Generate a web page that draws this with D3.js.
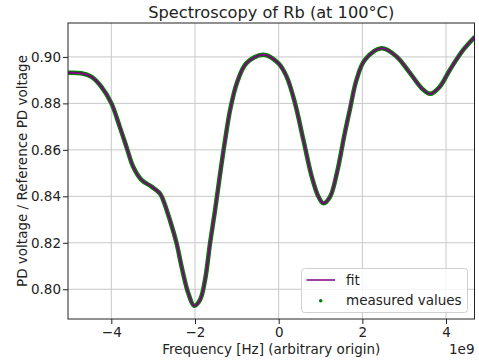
<!DOCTYPE html>
<html>
<head>
<meta charset="utf-8">
<script src="https://cdn.jsdelivr.net/npm/d3@7"></script>
<style>
  body { margin: 0; background: #fff; }
  svg text { font-family: 'DejaVu Sans', sans-serif; fill: #222; }
</style>
</head>
<body>
<div id="chart"></div>
<script>
// frequency in units of 1e9 Hz
const freq = [-5.03, -4.72, -4.48, -4.24, -4.00, -3.80, -3.64, -3.48, -3.28, -3.04,
  -2.84, -2.76, -2.60, -2.44, -2.32, -2.16, -2.02, -1.88, -1.76, -1.64,
  -1.52, -1.42, -1.28, -1.16, -1.00, -0.77, -0.37, -0.01, 0.19, 0.39,
  0.59, 0.79, 0.95, 1.07, 1.23, 1.39, 1.58, 1.70, 1.86, 2.06,
  2.46, 2.82, 3.14, 3.42, 3.62, 3.85, 4.09, 4.41, 4.69];

// PD voltage / reference PD voltage
const ratio = [0.8932, 0.8930, 0.8915, 0.8872, 0.8801, 0.8700, 0.8614, 0.8528, 0.8471, 0.8442,
  0.8413, 0.8384, 0.8298, 0.8198, 0.8097, 0.7983, 0.7929, 0.7954, 0.8040, 0.8198,
  0.8341, 0.8471, 0.8643, 0.8772, 0.8887, 0.8973, 0.9009, 0.8973, 0.8915, 0.8801,
  0.8643, 0.8485, 0.8399, 0.8370, 0.8399, 0.8499, 0.8672, 0.8772, 0.8901, 0.8987,
  0.9037, 0.9001, 0.8930, 0.8865, 0.8841, 0.8872, 0.8944, 0.9030, 0.9087];

const xTicks = [-4, -2, 0, 2, 4];
const yTicks = [0.80, 0.82, 0.84, 0.86, 0.88, 0.90];

const data = freq.map((f, i) => ({ f, r: ratio[i] }));

const w = 479;
const h = 362;
const plotLeft = 68;
const plotRight = 474.5;
const plotTop = 23;
const plotBottom = 319;

const svg = d3.select('#chart')
  .append('svg')
  .attr('width', w)
  .attr('height', h);

const x = d3.scaleLinear()
  .domain([-5.035, 4.68])
  .range([plotLeft, plotRight]);

const y = d3.scaleLinear()
  .domain([0.7872, 0.9146])
  .range([plotBottom, plotTop]);

// grid
svg.append('g')
  .selectAll('line')
  .data(xTicks)
  .enter()
  .append('line')
  .attr('x1', (d) => x(d))
  .attr('x2', (d) => x(d))
  .attr('y1', plotTop)
  .attr('y2', plotBottom)
  .attr('stroke', '#c8c8c8')
  .attr('stroke-width', 1);

svg.append('g')
  .selectAll('line')
  .data(yTicks)
  .enter()
  .append('line')
  .attr('x1', plotLeft)
  .attr('x2', plotRight)
  .attr('y1', (d) => y(d))
  .attr('y2', (d) => y(d))
  .attr('stroke', '#c8c8c8')
  .attr('stroke-width', 1);

// axes
const xAxis = svg.append('g')
  .attr('transform', `translate(0,${plotBottom})`)
  .call(d3.axisBottom(x)
    .tickValues(xTicks)
    .tickSize(5)
    .tickPadding(3)
    .tickFormat((d) => (d < 0 ? `\u2212${-d}` : `${d}`)));

const yAxis = svg.append('g')
  .attr('transform', `translate(${plotLeft},0)`)
  .call(d3.axisLeft(y)
    .tickValues(yTicks)
    .tickSize(5)
    .tickPadding(2)
    .tickFormat(d3.format('.2f')));

[xAxis, yAxis].forEach((a) => {
  a.select('.domain').remove();
  a.selectAll('line').attr('stroke', '#222');
  a.selectAll('text')
    .attr('font-size', '13.5px')
    .attr('font-family', 'DejaVu Sans, sans-serif')
    .attr('fill', '#222');
});

// curves, clipped to the axes
svg.append('clipPath')
  .attr('id', 'clip')
  .append('rect')
  .attr('x', plotLeft)
  .attr('y', plotTop)
  .attr('width', plotRight - plotLeft)
  .attr('height', plotBottom - plotTop);

const line = d3.line()
  .x((d) => x(d.f))
  .y((d) => y(d.r))
  .curve(d3.curveCatmullRom.alpha(0.5));

// measured values: dense green dots, drawn as a thick line
svg.append('path')
  .datum(data)
  .attr('clip-path', 'url(#clip)')
  .attr('d', line)
  .attr('fill', 'none')
  .attr('stroke', 'green')
  .attr('stroke-width', 4.5)
  .attr('stroke-linejoin', 'round');

svg.append('path')
  .datum(data)
  .attr('clip-path', 'url(#clip)')
  .attr('d', line)
  .attr('fill', 'none')
  .attr('stroke', 'purple')
  .attr('stroke-width', 2);

// frame
svg.append('rect')
  .attr('x', plotLeft)
  .attr('y', plotTop)
  .attr('width', plotRight - plotLeft)
  .attr('height', plotBottom - plotTop)
  .attr('fill', 'none')
  .attr('stroke', '#222')
  .attr('stroke-width', 1);

// texts
svg.append('text')
  .attr('x', (plotLeft + plotRight) / 2)
  .attr('y', 17.5)
  .attr('text-anchor', 'middle')
  .attr('font-size', '16.2px')
  .text('Spectroscopy of Rb (at 100°C)');

svg.append('text')
  .attr('x', (plotLeft + plotRight) / 2)
  .attr('y', 354)
  .attr('text-anchor', 'middle')
  .attr('font-size', '13.5px')
  .text('Frequency [Hz] (arbitrary origin)');

svg.append('text')
  .attr('x', plotRight)
  .attr('y', 354)
  .attr('text-anchor', 'end')
  .attr('font-size', '13.5px')
  .text('1e9');

svg.append('text')
  .attr('transform', `translate(26.5,${(plotTop + plotBottom) / 2}) rotate(-90)`)
  .attr('text-anchor', 'middle')
  .attr('font-size', '13.5px')
  .text('PD voltage / Reference PD voltage');

// legend
const legend = svg.append('g')
  .attr('transform', 'translate(301.5,268.5)');

legend.append('rect')
  .attr('width', 166)
  .attr('height', 44)
  .attr('rx', 3)
  .attr('fill', 'white')
  .attr('fill-opacity', 0.8)
  .attr('stroke', '#d0d0d0');

legend.append('line')
  .attr('x1', 5)
  .attr('x2', 33.5)
  .attr('y1', 11.5)
  .attr('y2', 11.5)
  .attr('stroke', 'purple')
  .attr('stroke-width', 1.5);

legend.append('circle')
  .attr('cx', 19.2)
  .attr('cy', 32.2)
  .attr('r', 1.8)
  .attr('fill', 'green');

legend.append('text')
  .attr('x', 44.5)
  .attr('y', 16)
  .attr('font-size', '13.5px')
  .text('fit');

legend.append('text')
  .attr('x', 44.5)
  .attr('y', 36)
  .attr('font-size', '13.5px')
  .text('measured values');
</script>
</body>
</html>
